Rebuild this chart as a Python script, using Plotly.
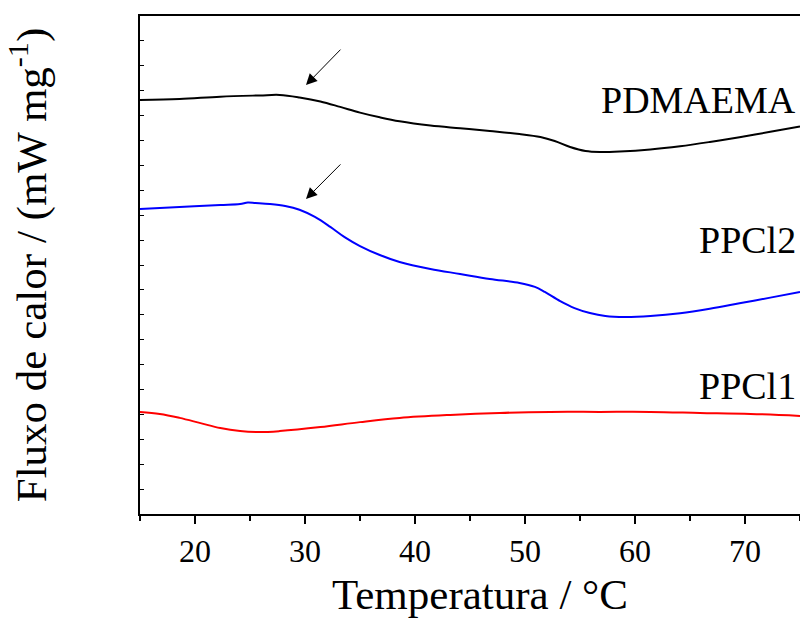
import plotly.graph_objects as go

# Temperature (°C) and heat-flow (arbitrary offset units)
t_pdmaema = [15, 18.6, 22.3, 25.9, 27.7, 29.5, 31.4, 33.2, 35, 36.8, 38.6, 41.4, 44.1, 46.8, 49.5, 51.4, 52.7, 54.1, 55.5, 56.8, 58.6, 61.4, 64.1, 66.8, 69.5, 72.3, 75]
y_pdmaema = [16.63, 16.67, 16.76, 16.81, 16.83, 16.73, 16.57, 16.35, 16.12, 15.93, 15.77, 15.60, 15.49, 15.38, 15.26, 15.14, 14.98, 14.74, 14.58, 14.54, 14.56, 14.64, 14.77, 14.94, 15.13, 15.35, 15.56]

t_ppcl2 = [15, 18.6, 22.3, 24.1, 24.8, 25.5, 26.8, 28.2, 29.5, 30.9, 32.3, 33.6, 35, 36.8, 38.6, 41.4, 44.1, 46.8, 49.5, 50.9, 51.8, 53.2, 54.5, 55.9, 57.3, 59.1, 61.4, 64.1, 66.8, 69.5, 72.3, 75]
y_ppcl2 = [12.25, 12.33, 12.41, 12.45, 12.51, 12.49, 12.45, 12.37, 12.22, 11.93, 11.53, 11.12, 10.76, 10.40, 10.12, 9.84, 9.64, 9.44, 9.28, 9.12, 8.92, 8.55, 8.27, 8.07, 7.95, 7.91, 7.95, 8.06, 8.24, 8.46, 8.69, 8.92]

t_ppcl1 = [15, 16.8, 18.6, 20.5, 22.3, 24.1, 25.9, 27.7, 31.4, 35, 38.6, 43.2, 47.7, 52.3, 56.8, 61.4, 65.9, 70.5, 75]
y_ppcl1 = [4.10, 4.02, 3.86, 3.65, 3.45, 3.33, 3.29, 3.33, 3.49, 3.69, 3.86, 3.98, 4.06, 4.10, 4.10, 4.10, 4.06, 4.02, 3.94]

series_names = ["PDMAEMA", "PPCl2", "PPCl1"]
series_colors = ["#000000", "#0000ff", "#ff0000"]

x_ticks = [20, 30, 40, 50, 60, 70]

FONT = "Liberation Serif, Times New Roman, serif"

fig = go.Figure()
for t, y, name, col in zip([t_pdmaema, t_ppcl2, t_ppcl1],
                           [y_pdmaema, y_ppcl2, y_ppcl1],
                           series_names, series_colors):
    fig.add_trace(go.Scatter(x=t, y=y, mode="lines", name=name,
                             line=dict(color=col, width=2, shape="spline", smoothing=1.0),
                             showlegend=False))

# Curve labels
label_y = [16.63, 11.0, 5.14]
for name, ly in zip(series_names, label_y):
    fig.add_annotation(text=name, xref="paper", yref="y", x=0.997, y=ly,
                       xanchor="right", yanchor="middle", showarrow=False,
                       font=dict(family=FONT, size=38, color="black"))

# Arrows
for head_y, tail_y in [(17.23, 18.71), (12.65, 14.10)]:
    fig.add_annotation(x=30.09, y=head_y, ax=33.36, ay=tail_y,
                       xref="x", yref="y", axref="x", ayref="y",
                       text="", showarrow=True, arrowhead=2, arrowsize=2.2,
                       arrowwidth=1, arrowcolor="black")

# X-axis title
fig.add_annotation(text="Temperatura / °C", xref="paper", yref="paper", x=0.515, y=0,
                   xanchor="center", yanchor="middle", yshift=-80, showarrow=False,
                   borderpad=0,
                   font=dict(family=FONT, size=43, color="black"))

fig.update_layout(
    width=800, height=619,
    margin=dict(l=140, r=0, t=16, b=105),
    paper_bgcolor="white", plot_bgcolor="white",
    font=dict(family=FONT, color="black"),
    xaxis=dict(range=[15, 75], tickvals=x_ticks, ticks="outside", ticklen=8, tickwidth=2,
               tickcolor="black", showline=True, linecolor="black", linewidth=2, mirror=True,
               showgrid=False, zeroline=False,
               tickfont=dict(family=FONT, size=32, color="black"),
               minor=dict(dtick=5, tick0=15, ticks="outside", ticklen=5, tickwidth=2, tickcolor="black")),
    yaxis=dict(range=[0, 20], dtick=1, tick0=0, ticks="inside", ticklen=4, tickwidth=1,
               tickcolor="black", showticklabels=False, showline=True, linecolor="black",
               linewidth=2, mirror=False, showgrid=False, zeroline=False,
               title=dict(text="Fluxo de calor / (mW mg<sup>-1</sup>)",
                          font=dict(family=FONT, size=43, color="black"), standoff=78)),
)

fig.write_html("out.html", config={"displayModeBar": False},
               post_script="document.body.style.margin='0px';")
